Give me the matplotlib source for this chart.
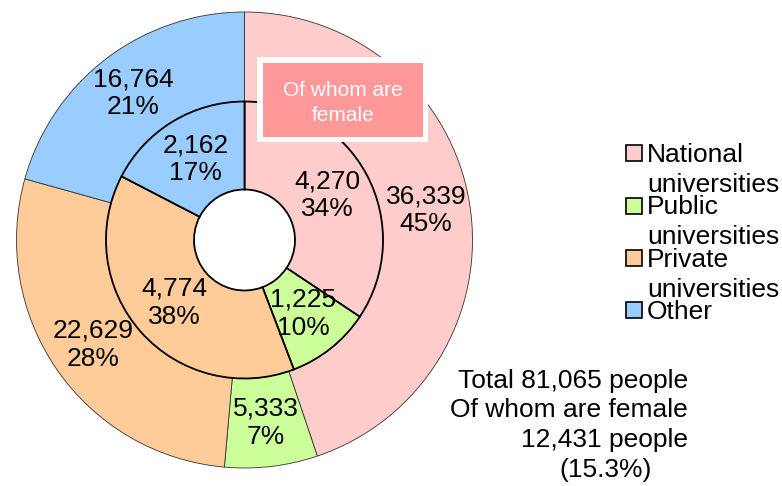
import matplotlib
matplotlib.use("Agg")
import matplotlib.pyplot as plt
from matplotlib.patches import Rectangle

plt.rcParams['font.family'] = ['Liberation Sans', 'DejaVu Sans']

# ---- data ----
categories = ["National universities", "Public universities", "Private universities", "Other"]
total_values = [36339, 5333, 22629, 16764]
female_values = [4270, 1225, 4774, 2162]
colors = ["#FFCCCC", "#CCFF99", "#FFCC99", "#99CCFF"]
box_label = ["Of whom are", "female"]
summary_lines = ["Total 81,065 people", "Of whom are female", "12,431 people", "(15.3%)"]

W, H = 782, 486
fig = plt.figure(figsize=(W / 100, H / 100), dpi=100)
ax = fig.add_axes([0, 0, 1, 1])

def Y(py):
    return H - py

cx, cy = 244.5, Y(240)
R_out, R_in, R_hole = 228, 138.5, 50.5


def make_autopct(vals):
    tot = sum(vals)
    def f(p):
        v = int(round(p * tot / 100.0))
        return f"{v:,}\n{p:.0f}%"
    return f

ax.pie(total_values, radius=R_out, center=(cx, cy), startangle=90, counterclock=False,
       colors=colors, autopct=make_autopct(total_values), pctdistance=0.807,
       wedgeprops=dict(width=R_out - R_in, edgecolor="#333333", linewidth=0.6),
       textprops=dict(fontsize=19, color="black"))
ax.pie(female_values, radius=R_in, center=(cx, cy), startangle=90, counterclock=False,
       colors=colors, autopct=make_autopct(female_values), pctdistance=0.68,
       wedgeprops=dict(width=R_in - R_hole, edgecolor="black", linewidth=1.3),
       textprops=dict(fontsize=19, color="black"))

# "Of whom are female" box
ax.add_patch(Rectangle((257, Y(142)), 171, 85, facecolor="white", edgecolor="none", zorder=5))
ax.add_patch(Rectangle((263, Y(137)), 160, 74, facecolor="#FF9999", edgecolor="none", zorder=6))
ax.text(343, Y(96), box_label[0], ha="center", va="baseline", fontsize=15, color="white", zorder=7)
ax.text(343, Y(121), box_label[1], ha="center", va="baseline", fontsize=15, color="white", zorder=7)

# legend (manual)
for i, (cat, col) in enumerate(zip(categories, colors)):
    base = 162 + 52.3 * i
    ax.add_patch(Rectangle((626, Y(base - 0.5)), 16, 16, facecolor=col, edgecolor="black",
                           linewidth=1.2, zorder=5))
    parts = cat.split(" ")
    ax.text(647, Y(base), parts[0], ha="left", va="baseline", fontsize=19)
    if len(parts) > 1:
        ax.text(647, Y(base + 30), " ".join(parts[1:]), ha="left", va="baseline", fontsize=19)

# summary text
bases = [388, 417, 447, 477]
for j, line in enumerate(summary_lines):
    if j < 3:
        ax.text(688, Y(bases[j]), line, ha="right", va="baseline", fontsize=19)
    else:
        ax.text(606, Y(bases[j]), line, ha="center", va="baseline", fontsize=19)

ax.set_xlim(0, W)
ax.set_ylim(0, H)
ax.set_aspect("equal")
ax.axis("off")

fig.savefig("out.png", dpi=100)
